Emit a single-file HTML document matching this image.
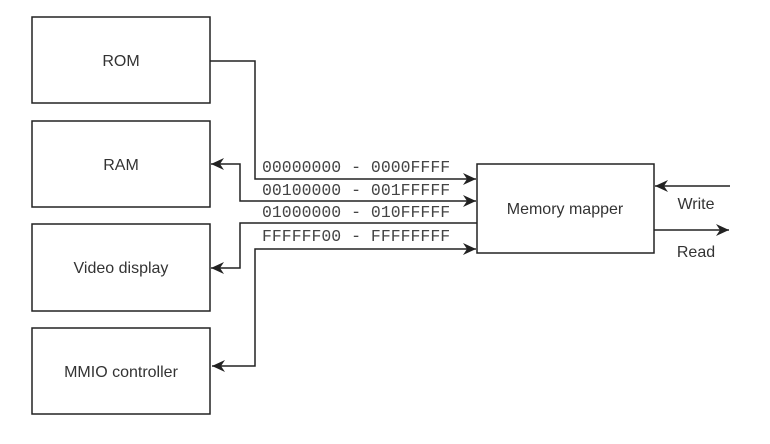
<!DOCTYPE html>
<html><head><style>body{margin:0;background:#fff}</style></head><body>
<svg width="770" height="439" xmlns="http://www.w3.org/2000/svg">
<defs><marker id="a" markerWidth="14" markerHeight="12" refX="13" refY="6" orient="auto-start-reverse" markerUnits="userSpaceOnUse"><path d="M0,0 L13,6 L0,12 L4,6 Z" fill="#222"/></marker></defs>
<g fill="#fff" stroke="#222" stroke-width="1.5">
<rect x="32" y="17" width="178" height="86"/>
<rect x="32" y="121" width="178" height="86"/>
<rect x="32" y="224" width="178" height="87"/>
<rect x="32" y="328" width="178" height="86"/>
<rect x="477" y="164" width="177" height="89"/>
</g>
<g fill="none" stroke="#222" stroke-width="1.5">
<polyline points="210,61 255,61 255,179 476,179" marker-end="url(#a)"/>
<polyline points="476,201 240,201 240,164 211,164" marker-end="url(#a)" marker-start="url(#a)"/>
<polyline points="477,223 240,223 240,268 211,268" marker-end="url(#a)"/>
<polyline points="212,366 255,366 255,249 476,249" marker-end="url(#a)" marker-start="url(#a)"/>
<line x1="730" y1="186" x2="655" y2="186" marker-end="url(#a)"/>
<line x1="654" y1="230" x2="729" y2="230" marker-end="url(#a)"/>
</g>
<g font-family="Liberation Sans, sans-serif" font-size="16" fill="#333" text-anchor="middle">
<text x="121" y="66">ROM</text>
<text x="121" y="170">RAM</text>
<text x="121" y="273">Video display</text>
<text x="121" y="377">MMIO controller</text>
<text x="565" y="214">Memory mapper</text>
<text x="696" y="209">Write</text>
<text x="696" y="257">Read</text>
</g>
<g font-family="Liberation Mono, monospace" font-size="16.5" fill="#444">
<text x="262" y="172">00000000 - 0000FFFF</text>
<text x="262" y="195">00100000 - 001FFFFF</text>
<text x="262" y="217">01000000 - 010FFFFF</text>
<text x="262" y="241">FFFFFF00 - FFFFFFFF</text>
</g>
</svg>
</body></html>
